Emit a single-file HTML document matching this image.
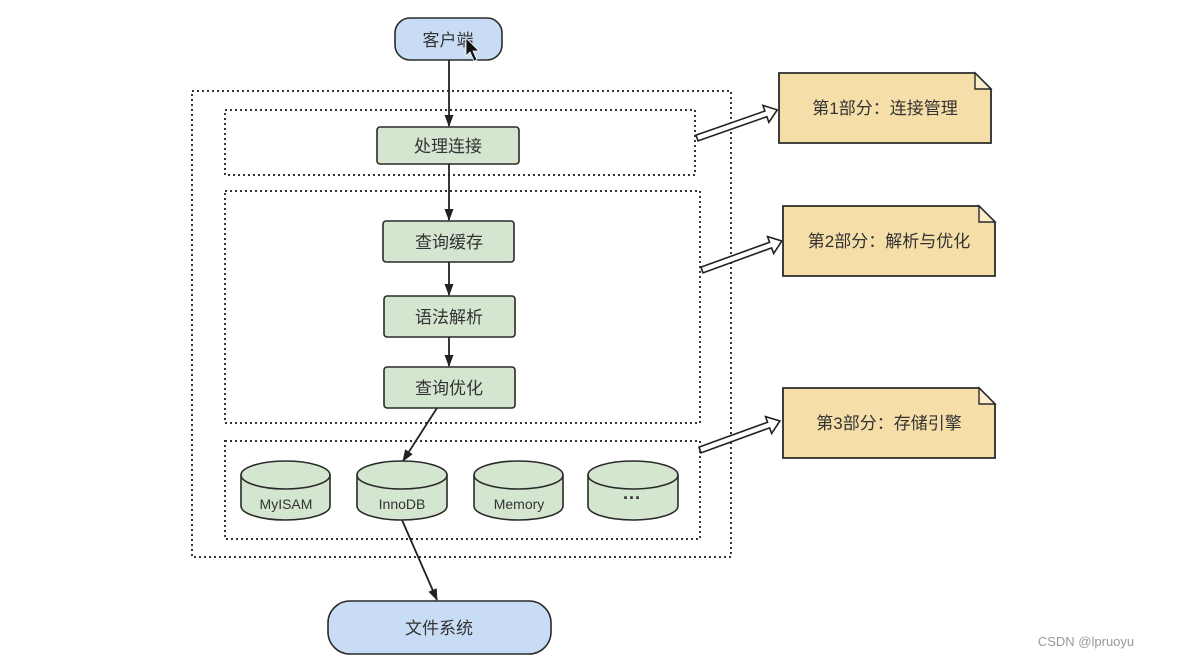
<!DOCTYPE html>
<html><head><meta charset="utf-8"><style>
html,body{margin:0;padding:0;background:#fff;width:1188px;height:658px;overflow:hidden}
svg text{font-family:"Liberation Sans","Noto Sans CJK SC",sans-serif}
</style></head><body>
<svg width="1188" height="658" viewBox="0 0 1188 658" xmlns="http://www.w3.org/2000/svg">
<defs>
<marker id="ah" markerWidth="12" markerHeight="12" refX="11" refY="6" orient="auto" markerUnits="userSpaceOnUse">
<path d="M0,1.5 L12,6 L0,10.5 Z" fill="#222"/></marker>
</defs>
<g fill="none" stroke="#333" stroke-width="2" stroke-dasharray="2,3">
<rect x="192" y="91" width="539" height="466"/>
<rect x="225" y="110" width="470" height="65"/>
<rect x="225" y="191" width="475" height="232"/>
<rect x="225" y="441" width="475" height="98"/>
</g>
<rect x="395" y="18" width="107" height="42" rx="15" fill="#c9dcf6" stroke="#2a2a2a" stroke-width="1.6"/>
<text x="448" y="46" font-size="17" text-anchor="middle" fill="#333">客户端</text>
<path d="M466,38 L466,56 L470,52 L474,61 L477,60 L473,51 L479,51 Z" fill="#111" stroke="#fff" stroke-width="0.8"/>
<g fill="#d5e6d0" stroke="#2a2a2a" stroke-width="1.6">
<rect x="377" y="127" width="142" height="37" rx="3"/>
<rect x="383" y="221" width="131" height="41" rx="3"/>
<rect x="384" y="296" width="131" height="41" rx="3"/>
<rect x="384" y="367" width="131" height="41" rx="3"/>
</g>
<g font-size="17" text-anchor="middle" fill="#333">
<text x="448" y="152">处理连接</text>
<text x="449" y="248">查询缓存</text>
<text x="449" y="323">语法解析</text>
<text x="449" y="394">查询优化</text>
</g>
<g stroke="#222" stroke-width="1.8" marker-end="url(#ah)">
<line x1="449" y1="60" x2="449" y2="126"/>
<line x1="449" y1="164" x2="449" y2="220"/>
<line x1="449" y1="262" x2="449" y2="295"/>
<line x1="449" y1="337" x2="449" y2="366"/>
<line x1="437" y1="408" x2="403" y2="461"/>
<line x1="402" y1="520" x2="437" y2="600"/>
</g>
<g fill="#d5e6d0" stroke="#2a2a2a" stroke-width="1.6">
<path d="M241,475 A44.5,14 0 0 1 330,475 L330,506 A44.5,14 0 0 1 241,506 Z"/><path d="M241,475 A44.5,14 0 0 0 330,475" fill="none"/>
<path d="M357,475 A45,14 0 0 1 447,475 L447,506 A45,14 0 0 1 357,506 Z"/><path d="M357,475 A45,14 0 0 0 447,475" fill="none"/>
<path d="M474,475 A44.5,14 0 0 1 563,475 L563,506 A44.5,14 0 0 1 474,506 Z"/><path d="M474,475 A44.5,14 0 0 0 563,475" fill="none"/>
<path d="M588,475 A45,14 0 0 1 678,475 L678,506 A45,14 0 0 1 588,506 Z"/><path d="M588,475 A45,14 0 0 0 678,475" fill="none"/>
</g>
<g font-size="14" text-anchor="middle" fill="#333">
<text x="286" y="509">MyISAM</text>
<text x="402" y="509">InnoDB</text>
<text x="519" y="509">Memory</text>
<text x="632" y="504" font-size="18" font-weight="bold">···</text>
</g>
<rect x="328" y="601" width="223" height="53" rx="22" fill="#c9dcf6" stroke="#2a2a2a" stroke-width="1.6"/>
<text x="439" y="634" font-size="17" text-anchor="middle" fill="#333">文件系统</text>
<g fill="#f5dea8" stroke="#2a2a2a" stroke-width="1.8">
<path d="M779,73 L975,73 L991,89 L991,143 L779,143 Z"/>
<path d="M783,206 L979,206 L995,222 L995,276 L783,276 Z"/>
<path d="M783,388 L979,388 L995,404 L995,458 L783,458 Z"/>
</g>
<g fill="#fbeecd" stroke="#2a2a2a" stroke-width="1.4">
<path d="M975,73 L975,89 L991,89 Z"/>
<path d="M979,206 L979,222 L995,222 Z"/>
<path d="M979,388 L979,404 L995,404 Z"/>
</g>
<g font-size="17" text-anchor="middle" fill="#333">
<text x="885" y="114">第1部分：连接管理</text>
<text x="889" y="247">第2部分：解析与优化</text>
<text x="889" y="429">第3部分：存储引擎</text>
</g>
<g fill="#fff" stroke="#222" stroke-width="1.6">
<polygon transform="translate(697,138) rotate(-19.3)" points="0,-3 73,-3 73,-9 85,0 73,9 73,3 0,3"/>
<polygon transform="translate(702,270) rotate(-20)" points="0,-3 73,-3 73,-9 85,0 73,9 73,3 0,3"/>
<polygon transform="translate(700,450) rotate(-20)" points="0,-3 73,-3 73,-9 85,0 73,9 73,3 0,3"/>
</g>
<text x="1086" y="646" font-size="13" text-anchor="middle" fill="#999">CSDN @lpruoyu</text>
</svg>
</body></html>
